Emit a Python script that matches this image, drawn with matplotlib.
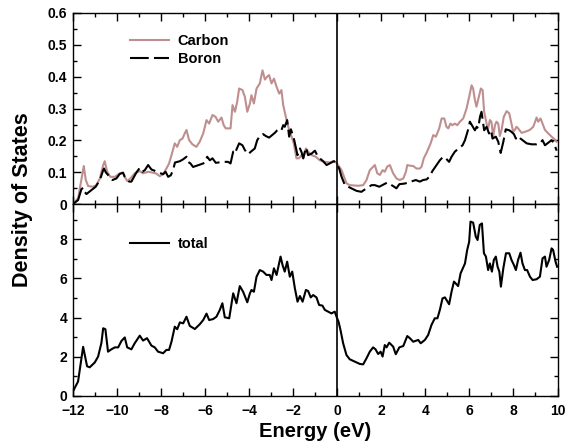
import numpy as np
import matplotlib
matplotlib.use('Agg')
import matplotlib.pyplot as plt
from matplotlib.ticker import MultipleLocator

plt.rcParams['font.family'] = ['Liberation Sans', 'DejaVu Sans']
plt.rcParams['font.weight'] = 'bold'

# Carbon partial DOS (energy in eV, DOS)
e_carbon = [-12.00, -11.76, -11.61, -11.50, -11.41, -11.30, -11.08, -10.93, -10.77, -10.62, -10.55, -10.44,
            -10.29, -10.09, -9.87, -9.72, -9.64, -9.53, -9.38, -9.19, -8.96, -8.81, -8.58, -8.43, -8.23,
            -8.05, -7.90, -7.75, -7.63, -7.52, -7.37, -7.26, -7.14, -7.02, -6.92, -6.84, -6.72, -6.57,
            -6.39, -6.24, -6.08, -5.93, -5.81, -5.66, -5.52, -5.40, -5.25, -5.15, -5.06, -4.84, -4.75,
            -4.64, -4.54, -4.45, -4.30, -4.19, -4.08, -3.96, -3.89, -3.78, -3.66, -3.51, -3.39, -3.28,
            -3.18, -3.09, -2.98, -2.87, -2.75, -2.63, -2.53, -2.45, -2.33, -2.22, -2.07, -1.97, -1.85,
            -1.74, -1.62, -1.54, -1.42, -1.32, -1.16, -0.97, -0.79, -0.56, -0.33, -0.15, -0.03, 0.20,
            0.42, 0.57, 0.95, 1.18, 1.33, 1.48, 1.71, 1.82, 1.94, 2.06, 2.16, 2.27, 2.39, 2.54, 2.69,
            2.84, 3.00, 3.12, 3.18, 3.30, 3.45, 3.60, 3.75, 3.83, 3.93, 4.08, 4.24, 4.36, 4.48, 4.63,
            4.74, 4.86, 4.96, 5.04, 5.14, 5.23, 5.34, 5.45, 5.57, 5.72, 5.87, 5.99, 6.10, 6.17, 6.25,
            6.32, 6.43, 6.52, 6.60, 6.67, 6.78, 6.85, 6.93, 7.00, 7.08, 7.16, 7.23, 7.31, 7.38, 7.46,
            7.56, 7.69, 7.81, 7.91, 7.99, 8.06, 8.14, 8.21, 8.37, 8.52, 8.74, 8.90, 9.05, 9.12, 9.23,
            9.32, 9.43, 9.58, 9.73, 9.88, 9.95]
dos_carbon = [0.003, 0.018, 0.076, 0.120, 0.076, 0.057, 0.055, 0.060, 0.081, 0.123, 0.135, 0.102,
              0.086, 0.086, 0.097, 0.099, 0.086, 0.073, 0.081, 0.097, 0.104, 0.097, 0.102, 0.100, 0.097,
              0.088, 0.095, 0.112, 0.128, 0.154, 0.191, 0.180, 0.201, 0.206, 0.222, 0.233, 0.201, 0.188,
              0.180, 0.196, 0.222, 0.264, 0.253, 0.280, 0.274, 0.259, 0.272, 0.248, 0.238, 0.238, 0.311,
              0.290, 0.321, 0.363, 0.358, 0.337, 0.290, 0.316, 0.342, 0.316, 0.363, 0.379, 0.420, 0.391,
              0.400, 0.405, 0.379, 0.394, 0.368, 0.347, 0.358, 0.311, 0.274, 0.243, 0.212, 0.191, 0.144,
              0.144, 0.154, 0.144, 0.175, 0.165, 0.154, 0.149, 0.138, 0.133, 0.131, 0.136, 0.130, 0.107,
              0.066, 0.060, 0.058, 0.060, 0.076, 0.107, 0.123, 0.097, 0.092, 0.107, 0.102, 0.118, 0.123,
              0.097, 0.081, 0.076, 0.081, 0.102, 0.123, 0.121, 0.120, 0.112, 0.112, 0.118, 0.144, 0.165,
              0.191, 0.217, 0.212, 0.238, 0.269, 0.269, 0.243, 0.238, 0.253, 0.248, 0.253, 0.248, 0.259,
              0.269, 0.300, 0.337, 0.373, 0.363, 0.327, 0.306, 0.337, 0.363, 0.358, 0.290, 0.253, 0.238,
              0.264, 0.259, 0.212, 0.248, 0.259, 0.253, 0.214, 0.233, 0.274, 0.292, 0.285, 0.253, 0.227,
              0.233, 0.243, 0.238, 0.224, 0.227, 0.233, 0.243, 0.272, 0.259, 0.269, 0.253, 0.233, 0.222,
              0.212, 0.203, 0.196]

# Boron partial DOS
e_boron = [-11.95, -11.76, -11.61, -11.53, -11.46, -11.38, -10.96, -10.77, -10.62, -10.58, -10.50,
           -10.20, -10.02, -9.87, -9.72, -9.64, -9.44, -9.34, -9.11, -8.96, -8.84, -8.73, -8.58, -8.43,
           -8.35, -7.90, -7.79, -7.67, -7.55, -7.45, -7.36, -7.14, -6.99, -6.84, -6.77, -6.66, -6.54,
           -6.16, -6.01, -5.90, -5.78, -5.66, -5.51, -5.15, -4.95, -4.84, -4.72, -4.65, -4.45, -4.30,
           -4.19, -4.04, -3.93, -3.74, -3.63, -3.51, -3.36, -3.24, -3.09, -2.83, -2.72, -2.63, -2.53,
           -2.45, -2.38, -2.27, -2.18, -2.10, -2.00, -1.95, -1.80, -1.69, -1.62, -1.54, -1.42, -1.32,
           -1.16, -1.01, -0.91, -0.79, -0.64, -0.48, -0.15, -0.03, 0.09, 0.20, 0.35, 0.88, 1.10, 1.33,
           1.56, 1.71, 1.91, 2.27, 2.39, 2.54, 2.69, 2.82, 3.07, 3.57, 3.75, 3.90, 4.06, 4.18, 4.33,
           4.66, 4.81, 4.93, 5.08, 5.19, 5.34, 5.69, 5.80, 5.87, 5.98, 6.02, 6.25, 6.33, 6.40, 6.48,
           6.55, 6.67, 6.78, 6.89, 6.98, 7.05, 7.20, 7.31, 7.42, 7.54, 7.65, 7.81, 7.91, 8.02, 8.11,
           8.22, 8.32, 8.60, 8.82, 9.05, 9.20, 9.32, 9.43, 9.73, 9.84, 9.96]
dos_boron = [0.003, 0.013, 0.047, 0.052, 0.039, 0.032, 0.055, 0.076, 0.107, 0.112, 0.100,
             0.076, 0.081, 0.095, 0.099, 0.086, 0.071, 0.071, 0.100, 0.114, 0.102, 0.107, 0.123, 0.109,
             0.107, 0.094, 0.102, 0.086, 0.091, 0.107, 0.131, 0.135, 0.141, 0.149, 0.133, 0.128, 0.117,
             0.126, 0.130, 0.149, 0.138, 0.144, 0.130, 0.133, 0.133, 0.128, 0.165, 0.159, 0.191, 0.185,
             0.170, 0.157, 0.164, 0.175, 0.201, 0.214, 0.220, 0.214, 0.209, 0.224, 0.232, 0.236, 0.232,
             0.248, 0.243, 0.264, 0.212, 0.235, 0.214, 0.201, 0.154, 0.175, 0.164, 0.144, 0.178, 0.154,
             0.159, 0.168, 0.154, 0.144, 0.135, 0.123, 0.135, 0.128, 0.112, 0.086, 0.060, 0.042, 0.039, 0.050,
             0.060, 0.060, 0.055, 0.068, 0.063, 0.057, 0.050, 0.063, 0.065, 0.076, 0.071, 0.076, 0.078, 0.086, 0.105,
             0.138, 0.149, 0.144, 0.133, 0.149, 0.165, 0.185, 0.201, 0.217, 0.243, 0.259, 0.232, 0.243, 0.238, 0.274,
             0.290, 0.232, 0.243, 0.222, 0.232, 0.206, 0.212, 0.196, 0.161, 0.196, 0.235, 0.232, 0.227, 0.220, 0.206,
             0.214, 0.206, 0.191, 0.188, 0.188, 0.191, 0.201, 0.185, 0.201, 0.191, 0.168]

# Total DOS
e_total = [-12.00, -11.76, -11.53, -11.35, -11.23, -11.00, -10.85, -10.70, -10.62, -10.52, -10.40, -10.25,
           -10.09, -9.94, -9.79, -9.64, -9.53, -9.34, -9.19, -8.96, -8.81, -8.63, -8.43, -8.28, -8.13,
           -7.90, -7.75, -7.63, -7.52, -7.37, -7.26, -7.14, -6.99, -6.84, -6.69, -6.46, -6.24, -6.08,
           -5.93, -5.81, -5.63, -5.48, -5.33, -5.21, -5.10, -4.90, -4.72, -4.57, -4.42, -4.27, -4.08,
           -3.96, -3.89, -3.78, -3.66, -3.51, -3.36, -3.21, -3.06, -2.98, -2.87, -2.75, -2.57, -2.48,
           -2.38, -2.27, -2.15, -2.04, -1.92, -1.80, -1.69, -1.57, -1.42, -1.32, -1.20, -1.09, -0.94,
           -0.82, -0.67, -0.56, -0.41, -0.26, -0.11, -0.03, 0.06, 0.15, 0.27, 0.42, 0.57, 0.80, 1.03,
           1.18, 1.33, 1.48, 1.63, 1.74, 1.86, 1.97, 2.06, 2.16, 2.24, 2.36, 2.54, 2.66, 2.82, 3.00,
           3.18, 3.30, 3.45, 3.68, 3.79, 3.98, 4.13, 4.28, 4.43, 4.55, 4.66, 4.78, 4.89, 5.08, 5.19,
           5.30, 5.49, 5.60, 5.80, 5.90, 5.99, 6.05, 6.17, 6.29, 6.37, 6.47, 6.57, 6.66, 6.75, 6.85,
           6.93, 7.02, 7.11, 7.20, 7.28, 7.36, 7.43, 7.54, 7.66, 7.81, 7.91, 8.02, 8.11, 8.21, 8.32,
           8.41, 8.52, 8.62, 8.75, 8.87, 9.05, 9.20, 9.32, 9.43, 9.50, 9.62, 9.73, 9.80, 9.91, 9.98]
dos_total = [0.20, 0.72, 2.50, 1.50, 1.45, 1.70, 2.00, 2.70, 3.45, 3.40, 2.25, 2.37,
             2.47, 2.47, 2.80, 2.98, 2.47, 2.37, 2.68, 3.07, 2.82, 2.94, 2.56, 2.47, 2.25,
             2.17, 2.34, 2.34, 2.76, 3.53, 3.40, 3.75, 3.70, 4.04, 3.57, 3.41, 3.65, 3.87,
             4.20, 3.87, 3.92, 4.04, 4.38, 4.73, 4.01, 3.96, 5.24, 4.73, 5.61, 5.32, 4.78,
             5.24, 5.41, 5.32, 6.09, 6.43, 6.35, 6.18, 6.18, 5.92, 6.52, 6.18, 7.12, 6.69,
             6.35, 6.86, 6.09, 6.35, 5.49, 4.81, 5.10, 4.81, 5.41, 5.36, 5.03, 5.15, 5.03,
             4.64, 4.61, 4.39, 4.30, 4.21, 4.30, 4.04, 3.79, 3.36, 2.68, 2.08, 1.86, 1.74, 1.62,
             1.60, 1.91, 2.25, 2.47, 2.37, 2.13, 2.25, 2.00, 2.59, 2.47, 2.71, 2.51, 2.12, 2.47, 2.54,
             3.05, 2.94, 2.76, 2.85, 2.68, 2.85, 3.11, 3.62, 3.96, 3.96, 4.39, 4.98, 5.03, 4.68, 5.32,
             5.84, 5.61, 6.26, 6.77, 7.46, 7.88, 8.91, 8.86, 8.14, 7.97, 8.74, 8.82, 7.29, 7.12, 6.43,
             6.77, 6.35, 6.95, 7.12, 6.60, 6.35, 5.58, 6.52, 7.29, 7.29, 6.95, 6.69, 6.43, 6.95, 7.32,
             6.77, 6.43, 6.43, 6.09, 5.92, 5.96, 6.09, 7.03, 7.12, 6.60, 6.95, 7.54, 7.46, 6.86, 6.60]

fig = plt.figure(figsize=(5.73, 4.46), dpi=100)
ax1 = fig.add_axes([0.127, 0.542, 0.846, 0.429])
ax2 = fig.add_axes([0.127, 0.113, 0.846, 0.429])

# panel superior
ax1.plot(e_carbon, dos_carbon, color='#bf8f8f', lw=1.5, label='Carbon')
ax1.plot(e_boron, dos_boron, color='black', lw=1.5, dashes=(9, 2.5), label='Boron')
ax1.axvline(0, color='black', lw=1.2)
ax1.set_xlim(-12, 10)
ax1.set_ylim(0, 0.6)
ax1.set_yticks(np.arange(0, 0.61, 0.1))
ax1.set_yticklabels(['0', '0.1', '0.2', '0.3', '0.4', '0.5', '0.6'])
ax1.yaxis.set_minor_locator(MultipleLocator(0.05))
ax1.tick_params(labelbottom=False)
ax1.legend(loc='upper left', bbox_to_anchor=(0.09, 0.96), frameon=False, fontsize=10.5,
           handlelength=2.7, handletextpad=0.6, labelspacing=0.3)

# panel inferior
ax2.plot(e_total, dos_total, color='black', lw=1.5, label='total')
ax2.axvline(0, color='black', lw=1.2)
ax2.set_xlim(-12, 10)
ax2.set_ylim(0, 9.8)
ax2.yaxis.set_major_locator(MultipleLocator(2))
ax2.yaxis.set_minor_locator(MultipleLocator(1))
ax2.legend(loc='upper left', bbox_to_anchor=(0.09, 0.895), frameon=False, fontsize=10.5,
           handlelength=2.7, handletextpad=0.6)
ax2.set_xlabel('Energy (eV)', fontsize=14.5, fontweight='bold', labelpad=3)

for ax in (ax1, ax2):
    ax.xaxis.set_major_locator(MultipleLocator(2))
    ax.xaxis.set_minor_locator(MultipleLocator(1))
    ax.tick_params(which='both', direction='in', top=True, right=True, labelsize=10)
    ax.tick_params(which='major', length=6, width=1)
    ax.tick_params(which='minor', length=3, width=1)
    ax.tick_params(axis='x', pad=6)
    ax.tick_params(axis='y', pad=4)
    for s in ax.spines.values():
        s.set_linewidth(1)
    for t in ax.get_xticklabels() + ax.get_yticklabels():
        t.set_fontweight('bold')

fig.text(0.04, 0.552, 'Density of States', rotation=90, fontsize=15.5, fontweight='bold',
         ha='center', va='center')

fig.savefig('out.png', dpi=100, facecolor='white')
